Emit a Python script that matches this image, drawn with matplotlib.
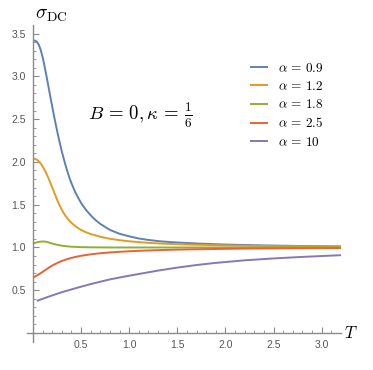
import matplotlib
matplotlib.use("Agg")
import matplotlib.pyplot as plt
from matplotlib.ticker import FixedLocator

plt.rcParams['mathtext.fontset'] = 'cm'
plt.rcParams['font.family'] = ['Liberation Sans', 'DejaVu Sans']

labels = [r"$\alpha\,=\,0.9$", r"$\alpha\,=\,1.2$", r"$\alpha\,=\,1.8$", r"$\alpha\,=\,2.5$", r"$\alpha\,=\,10$"]
colors = ["#5E81B5", "#E19C24", "#8FB032", "#EB6235", "#8778B3"]

T_blue = [0.00, 0.02, 0.04, 0.06, 0.08, 0.10, 0.12, 0.14, 0.16, 0.18, 0.20, 0.22, 0.24, 0.26, 0.28, 0.30,
          0.32, 0.34, 0.36, 0.38, 0.40, 0.43, 0.46, 0.50, 0.55, 0.60, 0.65, 0.70, 0.80, 0.90, 1.00, 1.10,
          1.20, 1.32, 1.50, 1.73, 2.00, 2.40, 2.80, 3.20]
s_blue = [3.42, 3.418, 3.405, 3.37, 3.31, 3.225, 3.12, 3.005, 2.885, 2.765, 2.645, 2.53, 2.42, 2.315, 2.215, 2.12,
          2.035, 1.955, 1.88, 1.81, 1.75, 1.67, 1.60, 1.52, 1.44, 1.375, 1.32, 1.275, 1.205, 1.16, 1.13, 1.105,
          1.088, 1.072, 1.058, 1.045, 1.034, 1.024, 1.017, 1.012]

T_orange = [0.00, 0.02, 0.04, 0.06, 0.08, 0.10, 0.12, 0.14, 0.16, 0.18, 0.20, 0.22, 0.24, 0.26, 0.28, 0.30,
            0.32, 0.34, 0.37, 0.40, 0.45, 0.50, 0.55, 0.60, 0.70, 0.80, 0.90, 1.00, 1.15, 1.32, 1.60, 2.00,
            2.50, 3.20]
s_orange = [2.04, 2.036, 2.026, 2.008, 1.982, 1.948, 1.908, 1.862, 1.812, 1.758, 1.702, 1.645, 1.588, 1.534,
            1.484, 1.44, 1.40, 1.366, 1.322, 1.287, 1.24, 1.205, 1.178, 1.157, 1.125, 1.102, 1.085, 1.072,
            1.058, 1.046, 1.034, 1.024, 1.016, 1.01]

T_green = [0.00, 0.02, 0.04, 0.06, 0.08, 0.10, 0.12, 0.14, 0.16, 0.18, 0.20, 0.23, 0.26, 0.30, 0.35, 0.40,
           0.50, 0.60, 0.80, 1.00, 2.00, 3.20]
s_green = [1.045, 1.053, 1.06, 1.065, 1.068, 1.07, 1.069, 1.066, 1.06, 1.053, 1.046, 1.037, 1.029, 1.021, 1.014,
           1.009, 1.004, 1.002, 1.0, 1.0, 1.0, 1.0]

T_red = [0.00, 0.03, 0.06, 0.09, 0.12, 0.15, 0.18, 0.21, 0.24, 0.27, 0.30, 0.35, 0.40, 0.45, 0.50, 0.60,
         0.70, 0.80, 0.95, 1.10, 1.30, 1.50, 1.80, 2.20, 2.70, 3.20]
s_red = [0.65, 0.665, 0.685, 0.707, 0.73, 0.753, 0.775, 0.795, 0.812, 0.828, 0.842, 0.862, 0.878, 0.892, 0.903,
         0.92, 0.933, 0.942, 0.953, 0.961, 0.969, 0.975, 0.981, 0.987, 0.991, 0.994]

T_purple = [0.04, 0.10, 0.20, 0.30, 0.40, 0.50, 0.60, 0.70, 0.80, 0.95, 1.10, 1.30, 1.50, 1.70, 1.90, 2.20,
            2.50, 2.80, 3.00, 3.20]
s_purple = [0.375, 0.40, 0.44, 0.477, 0.51, 0.542, 0.572, 0.60, 0.627, 0.66, 0.69, 0.73, 0.765, 0.795, 0.82,
            0.85, 0.872, 0.89, 0.90, 0.91]

series = [(T_blue, s_blue), (T_orange, s_orange), (T_green, s_green), (T_red, s_red), (T_purple, s_purple)]

W, H = 373, 370
fig = plt.figure(figsize=(W / 100, H / 100), dpi=100)
ax = fig.add_axes([27.2 / W, 28.4 / H, 313.8 / W, 316.6 / H])

for (t, s), c, lab in zip(series, colors, labels):
    ax.plot(t, s, color=c, lw=1.4, label=lab, solid_joinstyle="round", solid_capstyle="butt")

ax.set_xlim(-0.06, 3.2)
ax.set_ylim(-0.1, 3.6)
axis_col = "#8a8a8a"
for side in ["top", "right"]:
    ax.spines[side].set_visible(False)
ax.spines["left"].set_position(("data", 0))
ax.spines["bottom"].set_position(("data", 0))
for side in ["left", "bottom"]:
    ax.spines[side].set_color(axis_col)
    ax.spines[side].set_linewidth(1.0)

ax.xaxis.set_major_locator(FixedLocator([0.5, 1.0, 1.5, 2.0, 2.5, 3.0]))
ax.yaxis.set_major_locator(FixedLocator([0.5, 1.0, 1.5, 2.0, 2.5, 3.0, 3.5]))
ax.xaxis.set_minor_locator(FixedLocator([i * 0.1 for i in range(1, 32) if i % 5 != 0]))
ax.yaxis.set_minor_locator(FixedLocator([i * 0.1 for i in range(1, 36) if i % 5 != 0]))
ax.set_xticklabels(["0.5", "1.0", "1.5", "2.0", "2.5", "3.0"])
ax.set_yticklabels(["0.5", "1.0", "1.5", "2.0", "2.5", "3.0", "3.5"])
ax.tick_params(which="major", direction="in", length=4, width=0.8, color=axis_col,
               labelcolor="#555555", labelsize=7.5, pad=5)
ax.tick_params(which="minor", direction="in", length=2, width=0.6, color=axis_col)

ax.text(0.02, 3.71, r"$\sigma_{\rm DC}$", fontsize=14, ha="left", va="center", clip_on=False)
ax.text(3.23, 0.0, r"$T$", fontsize=12, ha="left", va="center", clip_on=False)
ax.text(0.57, 2.49, r"$B\,=\,0, \kappa\,=\,\frac{1}{6}$", fontsize=13.5, ha="left", va="baseline")

leg = ax.legend(loc="upper left", bbox_to_anchor=(0.672, 0.922), frameon=False, fontsize=9.5,
                handlelength=1.4, handletextpad=0.75, labelspacing=0.4)

fig.savefig("out.png", dpi=100)
